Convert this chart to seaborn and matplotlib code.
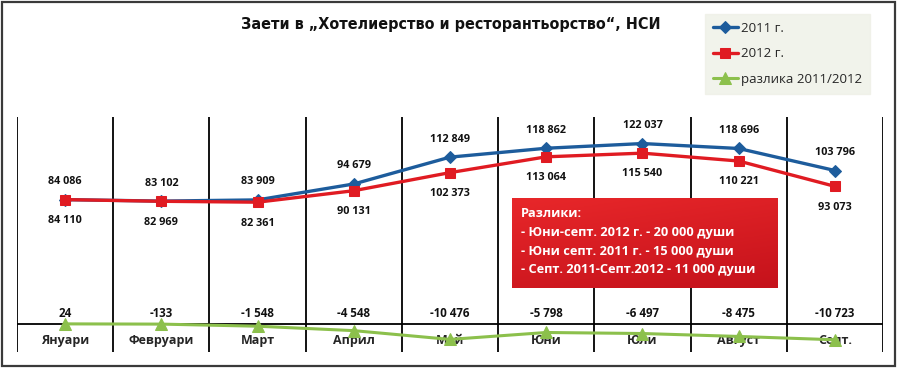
import numpy as np
import pandas as pd
import matplotlib
matplotlib.use("Agg")
import matplotlib.pyplot as plt
from matplotlib.patches import Rectangle
from matplotlib.colors import LinearSegmentedColormap
from matplotlib import font_manager as fm
import seaborn as sns

months = ["Януари", "Февруари", "Март", "Април", "Май", "Юни", "Юли", "Август", "Септ."]
y2011 = [84086, 83102, 83909, 94679, 112849, 118862, 122037, 118696, 103796]
y2012 = [84110, 82969, 82361, 90131, 102373, 113064, 115540, 110221, 93073]
diff = [24, -133, -1548, -4548, -10476, -5798, -6497, -8475, -10723]
series_names = ["2011 г.", "2012 г.", "разлика 2011/2012"]
title = "Заети в „Хотелиерство и ресторантьорство“, НСИ"
box_lines = ["Разлики:",
             "- Юни-септ. 2012 г. - 20 000 души",
             "- Юни септ. 2011 г. - 15 000 души",
             "- Септ. 2011-Септ.2012 - 11 000 души"]

sns.set_theme(style="white")
plt.rcParams["font.family"] = ["Open Sans", "DejaVu Sans"]

def fmt(v):
    s = f"{abs(v):,}".replace(",", " ")
    return ("-" if v < 0 else "") + s

pos = list(range(len(months)))
df = pd.DataFrame({"pos": pos, "y2011": y2011, "y2012": y2012, "diff": diff})

fig = plt.figure(figsize=(9.0, 3.68), dpi=100)
ax = fig.add_axes([17/900, 1-352/368, 866/900, 235/368])

c_blue, c_red, c_green = "#1d5c9c", "#e01b22", "#8cc04c"

sns.lineplot(data=df, x="pos", y="diff", ax=ax, color=c_green, lw=2.2,
             marker="^", markersize=8, markeredgecolor=c_green, label=series_names[2], zorder=3)
sns.lineplot(data=df, x="pos", y="y2011", ax=ax, color=c_blue, lw=2.4,
             marker="D", markersize=6, markeredgecolor=c_blue, label=series_names[0], zorder=4)
sns.lineplot(data=df, x="pos", y="y2012", ax=ax, color=c_red, lw=2.4,
             marker="s", markersize=6.5, markeredgecolor=c_red, label=series_names[1], zorder=5)

ax.set_xlim(-0.5, len(months) - 0.5)
ax.set_ylim(-19000, 140000)
for b in np.arange(-0.5, len(months), 1.0):
    ax.axvline(b, color="black", lw=1.3, zorder=1)
ax.axhline(0, color="black", lw=1.3, zorder=1)

for s in ["top", "right", "left", "bottom"]:
    ax.spines[s].set_visible(False)
ax.spines["bottom"].set_position(("data", 0))
ax.set_yticks([])
ax.set_xticks(pos)
ax.set_xticklabels(months, fontsize=9, fontweight="bold")
ax.tick_params(axis="x", length=0, pad=7)
ax.set_xlabel("")
ax.set_ylabel("")

for i in pos:
    ax.annotate(fmt(y2011[i]), (i, y2011[i]), xytext=(0, 13), textcoords="offset points",
                ha="center", va="center", fontsize=7.8, fontweight="bold", color="#111111")
    ax.annotate(fmt(y2012[i]), (i, y2012[i]), xytext=(0, -15), textcoords="offset points",
                ha="center", va="center", fontsize=7.8, fontweight="bold", color="#111111")
    ax.annotate(fmt(diff[i]), (i, 0), xytext=(0, 7.5), textcoords="offset points",
                ha="center", va="center", fontsize=8.3, fontweight="bold", color="#111111")

ax.get_legend().remove()
h, l = ax.get_legend_handles_labels()
order = [l.index(n) for n in series_names]
leg = fig.legend([h[k] for k in order], [l[k] for k in order], loc="upper left",
                 bbox_to_anchor=(705/900, 1-14/368), frameon=True, fancybox=False,
                 fontsize=9.5, handlelength=1.9, handletextpad=0.2, labelspacing=0.95,
                 borderpad=0.6, borderaxespad=0)
leg.get_frame().set_facecolor("#eef0e6")
leg.get_frame().set_edgecolor("#eef0e6")

# title: prefer a condensed bold face, then fit to the reference width
tfp = fm.FontProperties(family="DejaVu Sans", weight="bold", stretch="condensed")
tfile = fm.findfont(tfp)
if "Condensed" in tfile:
    tprops = dict(fontproperties=fm.FontProperties(fname=tfile, size=13))
else:
    tprops = dict(fontsize=13, fontweight="bold", family=["DejaVu Sans"])
ttl = fig.text(451/900, 1-24/368, title, ha="center", va="center", color="#111111", **tprops)
fig.canvas.draw()
w = ttl.get_window_extent().width
ttl.set_fontsize(13 * 417 / w)

# red info box with gradient
bx = fig.add_axes([512/900, 1-288/368, 266/900, 90/368])
grad = np.linspace(0, 1, 100)[:, None] * np.ones((1, 100))
grad = grad * 0.7 + (np.linspace(0, 1, 100)[None, :] * 0.3)
cm = LinearSegmentedColormap.from_list("rb", ["#e8272a", "#c5121b"])
bx.imshow(grad, cmap=cm, aspect="auto", extent=(0, 1, 0, 1), origin="upper")
bx.set_xlim(0, 1); bx.set_ylim(0, 1)
bx.axis("off")
for k, t in enumerate(box_lines):
    bx.text(9/266, 1 - (15 + 19*k)/90, t, ha="left", va="center", color="white",
            fontsize=9.2, fontweight="bold", transform=bx.transAxes)

fig.patches.append(Rectangle((0.002, 0.006), 0.992, 0.988, transform=fig.transFigure,
                             fill=False, edgecolor="#3a3a3a", lw=1.6))

fig.savefig("out.png", dpi=100)
